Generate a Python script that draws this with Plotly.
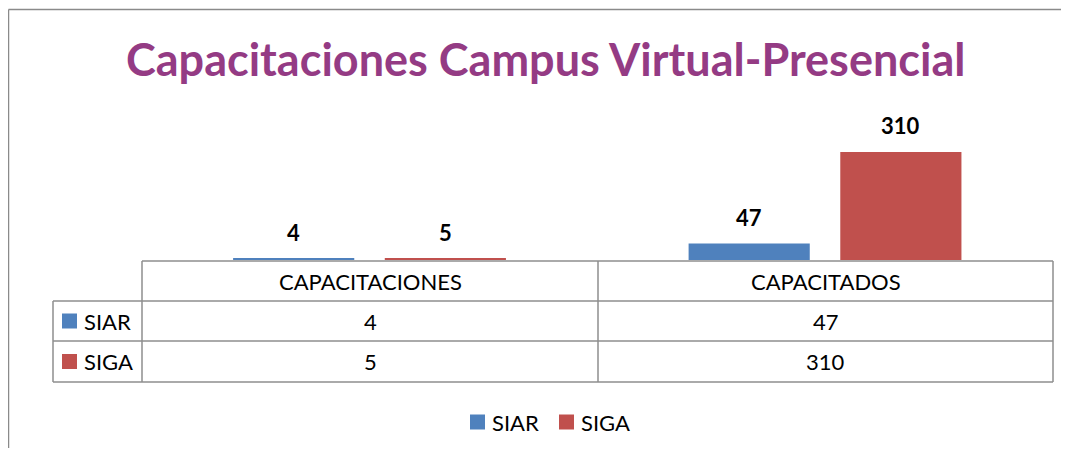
import plotly.graph_objects as go

# ---- data ----
categories = ["CAPACITACIONES", "CAPACITADOS"]
series_names = ["SIAR", "SIGA"]
siar_values = [4, 47]
siga_values = [5, 310]
series_values = [siar_values, siga_values]
series_colors = ["#4F81BD", "#C0504D"]
title_text = "Capacitaciones Campus Virtual-Presencial"

# page body has an 8px margin; figure occupies the rest of the window
M = 8
WIN_W, WIN_H = 1069, 456
W, H = WIN_W - 2 * M, WIN_H - 2 * M
FONT = "Lato"

def px(x):
    return (x - M) / W

def py(y):
    return 1 - (y - M) / H

# bar geometry in category units
bar_width = 0.266
bar_offsets = [-0.300, 0.033]
xpos = list(range(len(categories)))

fig = go.Figure()
for name, vals, col, off in zip(series_names, series_values, series_colors, bar_offsets):
    fig.add_trace(go.Bar(
        x=xpos, y=vals, name=name, marker_color=col, marker_line_width=0,
        width=bar_width, offset=off, showlegend=False,
    ))

annotations = []
# value labels above bars
for vals, off in zip(series_values, bar_offsets):
    for i, v in enumerate(vals):
        annotations.append(dict(
            x=i + off + bar_width / 2, y=v, xref="x", yref="y",
            text=f"<b>{v}</b>", showarrow=False, xanchor="center", yanchor="middle", yshift=26,
            font=dict(family=FONT, size=22, color="#000000"),
        ))

# title
annotations.append(dict(
    x=px(545), y=py(59), xref="paper", yref="paper", text=f"<b>{title_text}</b>",
    showarrow=False, xanchor="center", yanchor="middle",
    font=dict(family=FONT, size=45, color="#943B84"),
))

# data table
tbl_left_key = 53
col_edges = [142, 598, 1053]
row_edges = [261, 301, 341, 382]
line_col = "#8E8E8E"
shapes = []
TF = 22

def hline(x0, x1, y, w=1.5, c=line_col):
    shapes.append(dict(type="line", xref="paper", yref="paper", x0=px(x0), x1=px(x1),
                       y0=py(y), y1=py(y), line=dict(color=c, width=w)))

def vline(x, y0, y1, w=1.5, c=line_col):
    shapes.append(dict(type="line", xref="paper", yref="paper", x0=px(x), x1=px(x),
                       y0=py(y0), y1=py(y1), line=dict(color=c, width=w)))

hline(col_edges[0], col_edges[-1], row_edges[0])
for y in row_edges[1:]:
    hline(tbl_left_key, col_edges[-1], y)
for x in col_edges:
    vline(x, row_edges[0], row_edges[-1])
vline(tbl_left_key, row_edges[1], row_edges[-1])

def key(xs, yc, col, name):
    shapes.append(dict(type="rect", xref="paper", yref="paper",
                       x0=px(xs), x1=px(xs + 15), y0=py(yc + 7.5), y1=py(yc - 7.5),
                       fillcolor=col, line=dict(width=0)))
    annotations.append(dict(
        x=px(xs + 20), y=py(yc), xref="paper", yref="paper", text=name, showarrow=False,
        xanchor="left", yanchor="middle", font=dict(family=FONT, size=TF, color="#000000"),
    ))

# header text
for i, cat in enumerate(categories):
    annotations.append(dict(
        x=px((col_edges[i] + col_edges[i + 1]) / 2), y=py((row_edges[0] + row_edges[1]) / 2),
        xref="paper", yref="paper", text=cat, showarrow=False,
        xanchor="center", yanchor="middle",
        font=dict(family=FONT, size=TF, color="#000000"),
    ))
# rows
for r, (name, vals, col) in enumerate(zip(series_names, series_values, series_colors)):
    yc = (row_edges[r + 1] + row_edges[r + 2]) / 2
    key(62, yc, col, name)
    for i, v in enumerate(vals):
        annotations.append(dict(
            x=px((col_edges[i] + col_edges[i + 1]) / 2), y=py(yc),
            xref="paper", yref="paper", text=str(v), showarrow=False,
            xanchor="center", yanchor="middle",
            font=dict(family=FONT, size=TF, color="#000000"),
        ))

# bottom legend
legend_x = [470, 559]
for name, col, lx in zip(series_names, series_colors, legend_x):
    key(lx, 422, col, name)

# outer chart frame (top and left edges; the rest lies outside the window)
hline(8.5, WIN_W - M, 9.5, w=1.5, c="#8A8A8A")
vline(8.5, 9.5, WIN_H - M, w=1.5, c="#8A8A8A")

fig.update_layout(
    width=W, height=H, margin=dict(l=0, r=0, t=0, b=0),
    paper_bgcolor="white", plot_bgcolor="white",
    xaxis=dict(domain=[px(col_edges[0]), px(col_edges[-1])], range=[-0.5, 1.5],
               visible=False, fixedrange=True),
    yaxis=dict(domain=[py(260), py(138)], range=[0, 350], visible=False, fixedrange=True),
    barmode="overlay",
    showlegend=False,
    annotations=annotations, shapes=shapes,
)

fig.write_html("out.html")
